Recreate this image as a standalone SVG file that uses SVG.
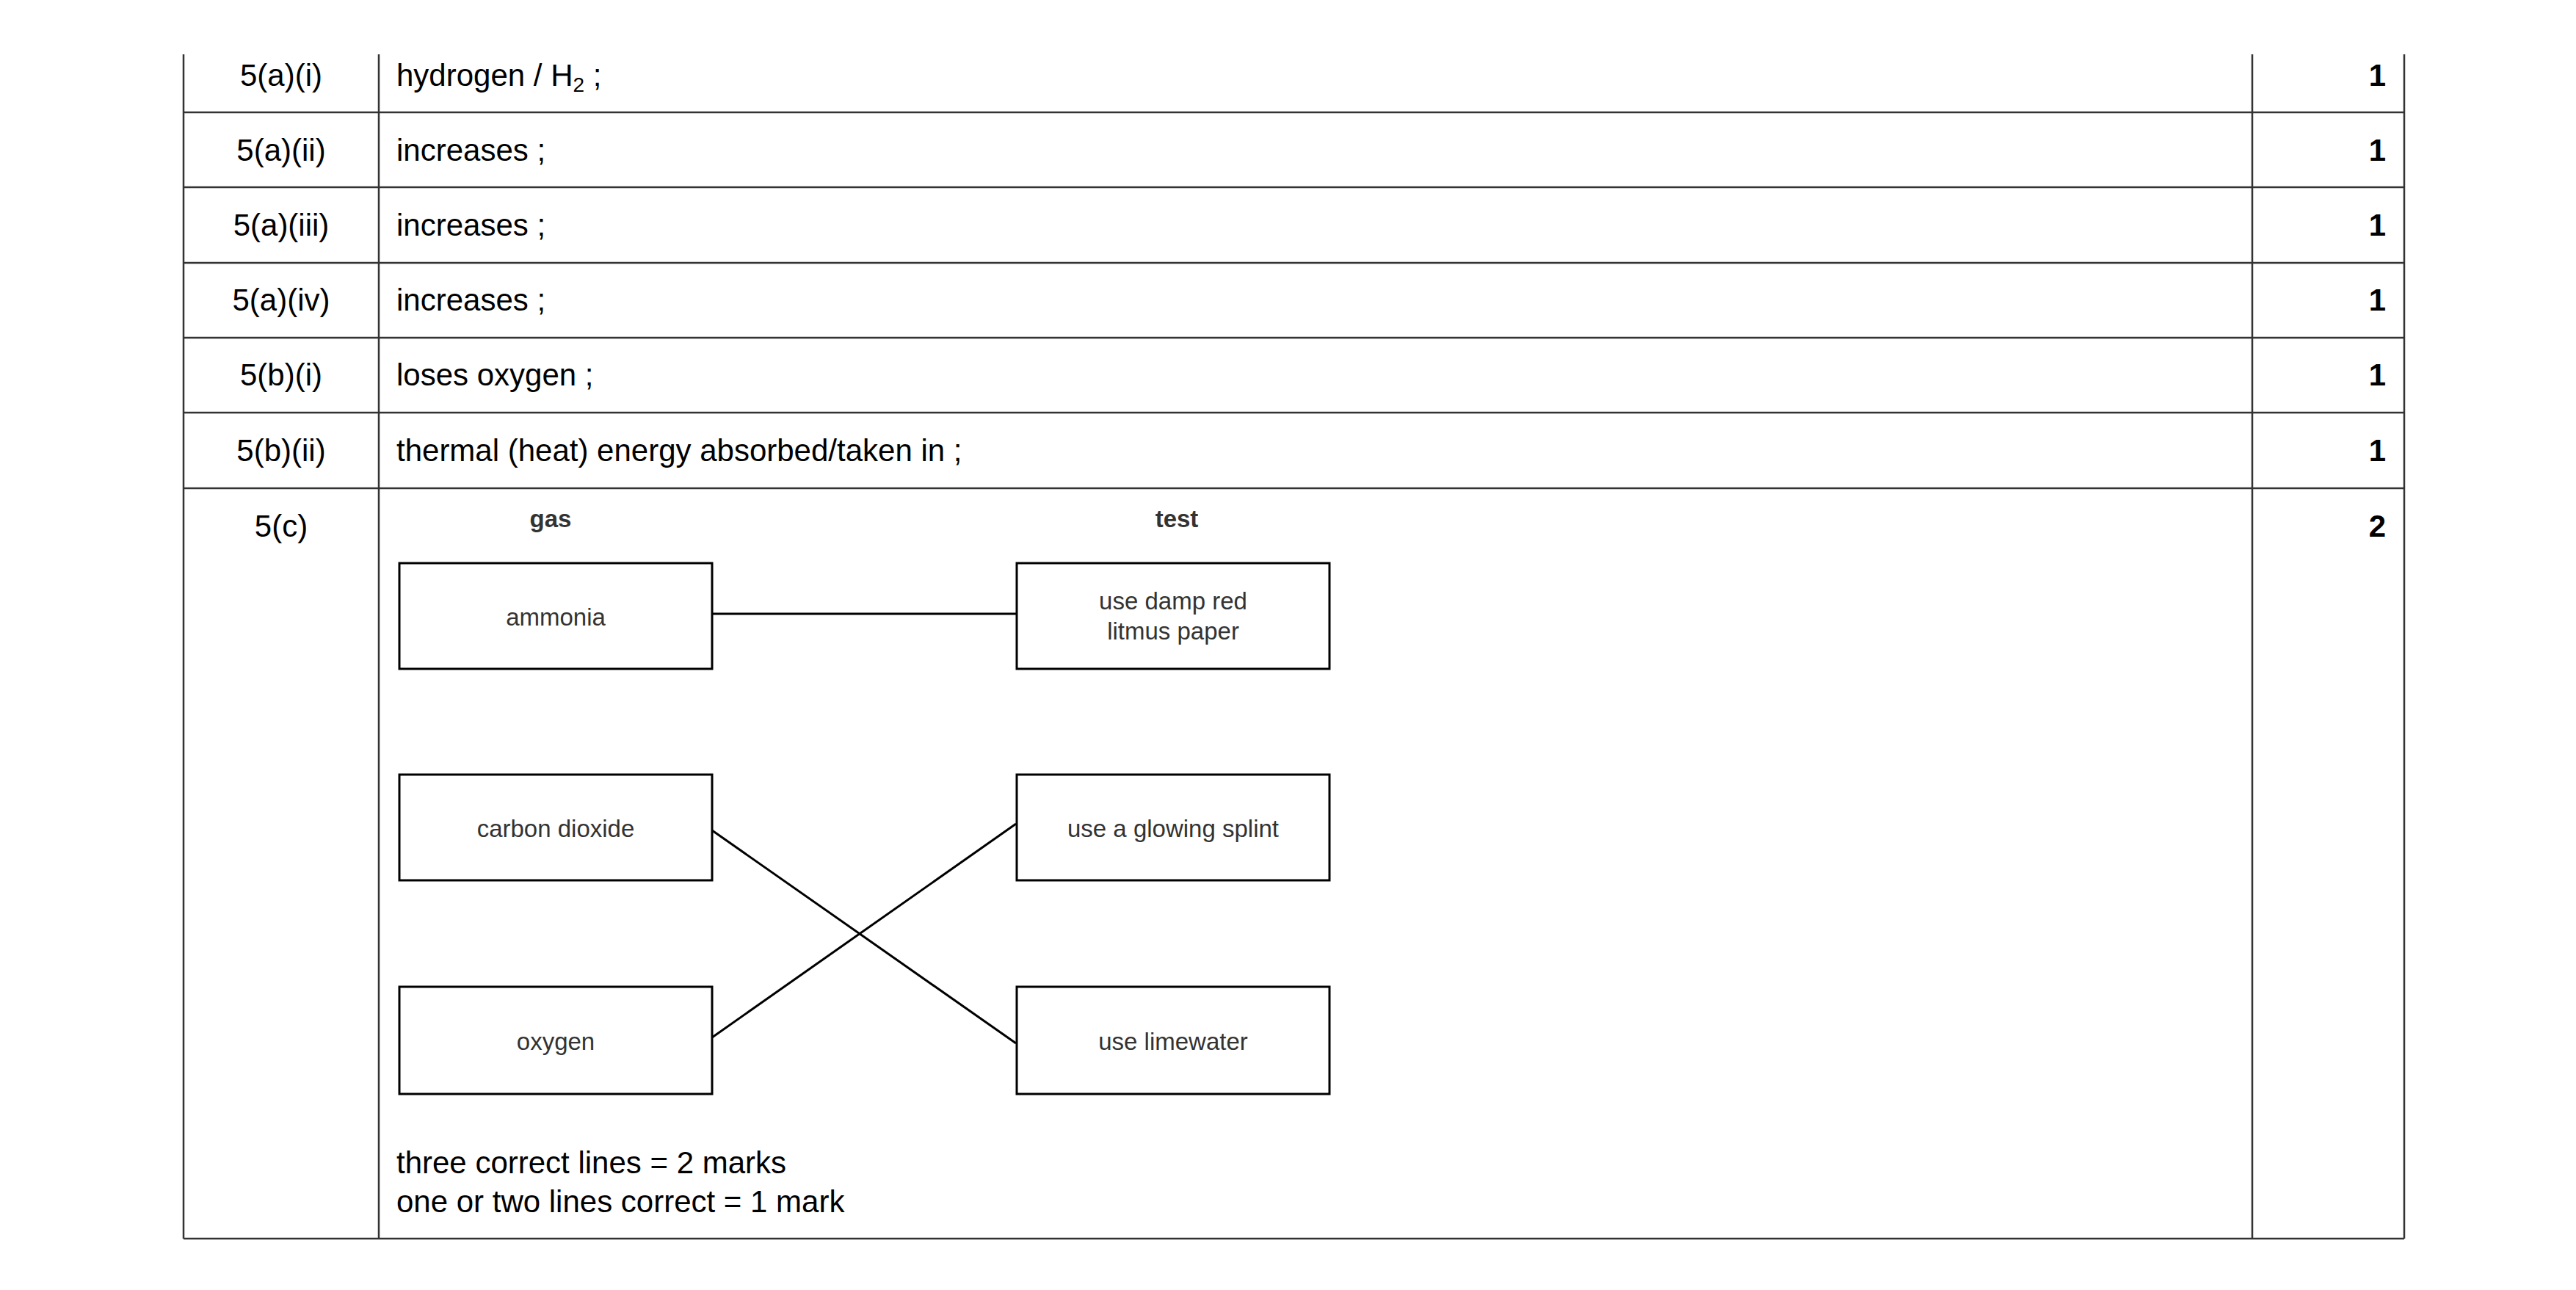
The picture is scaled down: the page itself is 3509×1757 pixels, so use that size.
<svg xmlns="http://www.w3.org/2000/svg" width="3509" height="1757" viewBox="0 0 3509 1757">
<style>
.t{font-family:"Liberation Sans",Arial,sans-serif;font-size:42px;fill:#000}
.c{text-anchor:middle}
.m{font-weight:bold;text-anchor:end}
.b{font-family:"Liberation Sans",Arial,sans-serif;font-size:33px;fill:#333;text-anchor:middle}
.g{fill:none;stroke:#333;stroke-width:2.5}
.box{fill:#fff;stroke:#000;stroke-width:3}
.ln{stroke:#000;stroke-width:3;fill:none}
</style>
<rect width="3509" height="1757" fill="#fff"/>
<g id="table" class="g">
<line x1="250" y1="74" x2="250" y2="1687"/>
<line x1="516" y1="74" x2="516" y2="1687"/>
<line x1="3068" y1="74" x2="3068" y2="1687"/>
<line x1="3275" y1="74" x2="3275" y2="1687"/>
<line x1="250" y1="153" x2="3275" y2="153"/>
<line x1="250" y1="255" x2="3275" y2="255"/>
<line x1="250" y1="358" x2="3275" y2="358"/>
<line x1="250" y1="460" x2="3275" y2="460"/>
<line x1="250" y1="562" x2="3275" y2="562"/>
<line x1="250" y1="665" x2="3275" y2="665"/>
<line x1="250" y1="1687" x2="3275" y2="1687"/>
</g>
<g id="rows">
<text class="t c" x="383" y="117">5(a)(i)</text>
<text class="t" x="540" y="117">hydrogen / H<tspan font-size="28" dy="8">2</tspan><tspan dy="-8"> ;</tspan></text>
<text class="t m" x="3250" y="117">1</text>
<text class="t c" x="383" y="219">5(a)(ii)</text>
<text class="t" x="540" y="219">increases ;</text>
<text class="t m" x="3250" y="219">1</text>
<text class="t c" x="383" y="321">5(a)(iii)</text>
<text class="t" x="540" y="321">increases ;</text>
<text class="t m" x="3250" y="321">1</text>
<text class="t c" x="383" y="423">5(a)(iv)</text>
<text class="t" x="540" y="423">increases ;</text>
<text class="t m" x="3250" y="423">1</text>
<text class="t c" x="383" y="525">5(b)(i)</text>
<text class="t" x="540" y="525">loses oxygen ;</text>
<text class="t m" x="3250" y="525">1</text>
<text class="t c" x="383" y="628">5(b)(ii)</text>
<text class="t" x="540" y="628">thermal (heat) energy absorbed/taken in ;</text>
<text class="t m" x="3250" y="628">1</text>
<text class="t c" x="383" y="731">5(c)</text>
<text class="t m" x="3250" y="731">2</text>
<text class="t" x="540" y="1598">three correct lines = 2 marks</text>
<text class="t" x="540" y="1651">one or two lines correct = 1 mark</text>
</g>
<text class="b" x="750" y="718" font-weight="bold">gas</text>
<text class="b" x="1603" y="718" font-weight="bold">test</text>
<g id="connectors">
<line class="ln" x1="970" y1="836" x2="1384" y2="836"/>
<line class="ln" x1="970" y1="1131" x2="1384" y2="1421"/>
<line class="ln" x1="970" y1="1413" x2="1384" y2="1122"/>
</g>
<g id="ammonia"><rect class="box" x="544" y="767" width="426" height="144"/><text class="b" x="757" y="852">ammonia</text></g>
<g id="co2"><rect class="box" x="544" y="1055" width="426" height="144"/><text class="b" x="757" y="1140">carbon dioxide</text></g>
<g id="oxygen"><rect class="box" x="544" y="1344" width="426" height="146"/><text class="b" x="757" y="1430">oxygen</text></g>
<g id="litmus"><rect class="box" x="1385" y="767" width="426" height="144"/><text class="b" x="1598" y="830">use damp red</text><text class="b" x="1598" y="871">litmus paper</text></g>
<g id="splint"><rect class="box" x="1385" y="1055" width="426" height="144"/><text class="b" x="1598" y="1140">use a glowing splint</text></g>
<g id="limewater"><rect class="box" x="1385" y="1344" width="426" height="146"/><text class="b" x="1598" y="1430">use limewater</text></g>
</svg>
